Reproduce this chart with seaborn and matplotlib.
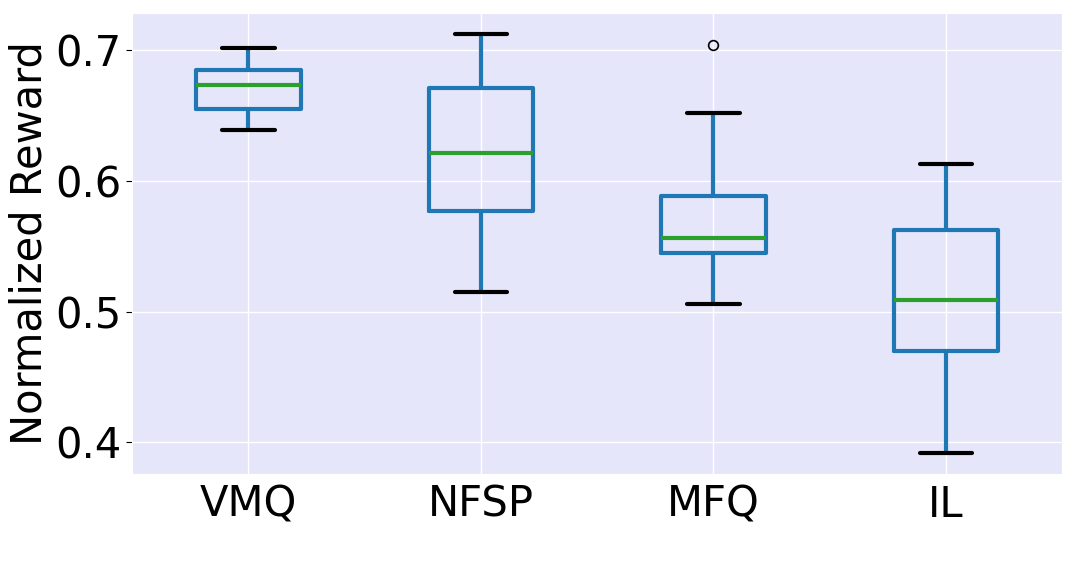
import pandas as pd
import matplotlib
matplotlib.use("Agg")
import matplotlib.pyplot as plt
import seaborn as sns

# Values (min, Q1, median, Q3, max; MFQ has one outlier)
methods = ["VMQ", "NFSP", "MFQ", "IL"]
vmq = [0.6386, 0.6548, 0.673, 0.685, 0.7012]
nfsp = [0.515, 0.5768, 0.6216, 0.6712, 0.7124]
mfq = [0.5056, 0.5445, 0.5445, 0.556, 0.556, 0.588, 0.588, 0.652, 0.7038]
il = [0.392, 0.470, 0.5086, 0.5626, 0.613]

rows = []
for name, vals in zip(methods, [vmq, nfsp, mfq, il]):
    for v in vals:
        rows.append({"method": name, "reward": v})
df = pd.DataFrame(rows)

sns.set_style("darkgrid", {"axes.facecolor": "lavender", "ytick.left": True,
                           "text.color": "black", "axes.labelcolor": "black",
                           "xtick.color": "black", "ytick.color": "black"})
plt.rcParams["ytick.major.size"] = 4

fig, ax = plt.subplots(figsize=(10.75, 5.8), dpi=100)
sns.boxplot(
    data=df, x="method", y="reward", order=methods, ax=ax,
    width=0.45, fill=False, color="#1f77b4", linewidth=3,
    medianprops={"color": "#2ca02c", "linewidth": 3},
    capprops={"color": "black", "linewidth": 3},
    whiskerprops={"color": "#1f77b4", "linewidth": 3},
    flierprops={"marker": "o", "markeredgecolor": "black",
                "markerfacecolor": "none", "markersize": 7,
                "markeredgewidth": 1.2},
)
ax.set_xlabel("")
ax.set_ylabel("Normalized Reward", fontsize=30, color="black")
ax.tick_params(axis="both", labelsize=30, labelcolor="black")
ax.set_yticks([0.4, 0.5, 0.6, 0.7])
ax.set_yticklabels(["0.4", "0.5", "0.6", "0.7"])
ax.grid(True, color="white", linewidth=1)

plt.subplots_adjust(left=0.123, right=0.988, top=0.978, bottom=0.183)
plt.savefig("out.png")
plt.close()
